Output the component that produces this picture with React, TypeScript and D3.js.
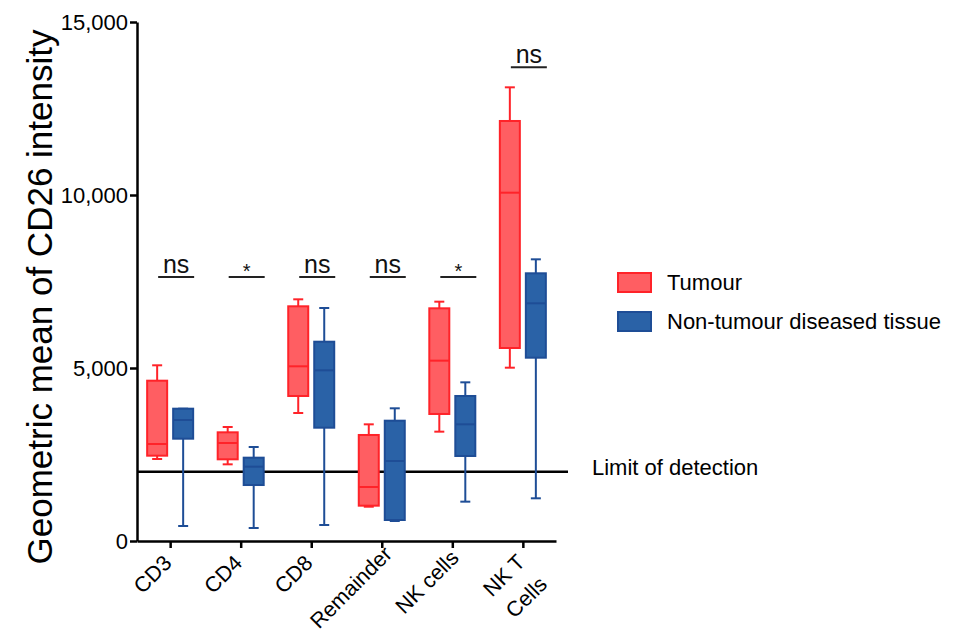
import React from "react";
import * as d3 from "d3";

// five-number summaries: [min, q1, median, q3, max]
const categories = ["CD3", "CD4", "CD8", "Remainder", "NK cells", "NK T\nCells"];
const tumour = [
  [2370, 2466, 2803, 4633, 5078],
  [2216, 2361, 2832, 3141, 3295],
  [3699, 4191, 5049, 6783, 6985],
  [991, 1021, 1561, 3064, 3372],
  [3160, 3671, 5212, 6725, 6917],
  [5009, 5578, 10067, 12139, 13112],
];
const nonTumour = [
  [434, 2957, 3497, 3824, 3824],
  [376, 1618, 2148, 2408, 2717],
  [462, 3275, 4933, 5760, 6734],
  [578, 607, 2312, 3477, 3835],
  [1137, 2457, 3372, 4191, 4586],
  [1234, 5298, 6870, 7737, 8141],
];
const significance = ["ns", "*", "ns", "ns", "*", "ns"];
const bracketLevels = [7630, 7630, 7630, 7630, 7630, 13690];
const yTicks = [0, 5000, 10000, 15000];
const limitOfDetection = 2000;
const seriesNames = ["Tumour", "Non-tumour diseased tissue"];

const FONT = "'Liberation Sans', Arial, Helvetica, sans-serif";
const colors = [
  { fill: "#FF5E62", stroke: "#FF2329" },
  { fill: "#2A62A7", stroke: "#1E4D96" },
];

export default function App() {
  const svgRef = React.useRef<SVGSVGElement>(null);

  React.useEffect(() => {
    const svg = d3.select(svgRef.current);
    svg.selectAll("*").remove();

    const y = d3.scaleLinear().domain([0, 15000]).range([541, 22]);
    const x = d3.scalePoint<string>().domain(categories).range([137, 556]).padding(0.47);

    // y axis
    const gy = svg
      .append("g")
      .attr("transform", "translate(137,0)")
      .call(
        d3
          .axisLeft(y)
          .tickValues(yTicks)
          .tickFormat(d3.format(","))
          .tickSize(7)
          .tickSizeOuter(0)
          .tickPadding(2)
      );
    gy.select(".domain").attr("stroke", "#000").attr("stroke-width", 2.5);
    gy.selectAll(".tick line").attr("stroke", "#000").attr("stroke-width", 2.5);
    gy.selectAll(".tick text")
      .attr("font-size", 22)
      .attr("font-family", FONT)
      .attr("fill", "#000");

    // x axis
    const gx = svg
      .append("g")
      .attr("transform", "translate(0,541)")
      .call(d3.axisBottom(x).tickSize(7).tickSizeOuter(0).tickFormat(() => ""));
    gx.select(".domain").attr("stroke", "#000").attr("stroke-width", 2.5);
    gx.selectAll(".tick line").attr("stroke", "#000").attr("stroke-width", 2.5);

    const labels = svg
      .append("g")
      .selectAll("text")
      .data(categories)
      .join("text")
      .attr("font-size", 21.5)
      .attr("font-family", FONT)
      .attr("fill", "#000")
      .attr("text-anchor", "end");
    labels.each(function (d) {
      const t = d3.select(this);
      d.split("\n").forEach((line, i) => {
        t.append("tspan")
          .attr("x", 0)
          .attr("dy", i === 0 ? 0 : "1.45em")
          .text(line);
      });
    });
    labels.attr("transform", function (d) {
      const first = (this as SVGTextElement).querySelector("tspan") as SVGTextContentElement;
      const len = first.getComputedTextLength();
      const shift = 0.2 * (len - 45);
      return `translate(${(x(d) as number) + 3},564) rotate(-45) translate(${shift},0)`;
    });

    // limit of detection
    svg
      .append("line")
      .attr("x1", 137)
      .attr("x2", 568)
      .attr("y1", y(limitOfDetection))
      .attr("y2", y(limitOfDetection))
      .attr("stroke", "#000")
      .attr("stroke-width", 2.5);
    svg
      .append("text")
      .attr("x", 592)
      .attr("y", y(limitOfDetection) + 3)
      .attr("font-size", 22)
      .attr("font-family", FONT)
      .text("Limit of detection");

    // boxes
    const boxW = 20;
    const capW = 10;
    [tumour, nonTumour].forEach((series, si) => {
      const col = colors[si];
      series.forEach((s, i) => {
        const cx = (x(categories[i]) as number) + (si === 0 ? -13 : 13);
        const [mn, q1, md, q3, mx] = s;
        const g = svg.append("g").attr("stroke", col.stroke).attr("stroke-width", 2);
        g.append("line").attr("x1", cx).attr("x2", cx).attr("y1", y(mx)).attr("y2", y(q3));
        g.append("line").attr("x1", cx).attr("x2", cx).attr("y1", y(q1)).attr("y2", y(mn));
        g.append("line").attr("x1", cx - capW / 2).attr("x2", cx + capW / 2).attr("y1", y(mx)).attr("y2", y(mx));
        g.append("line").attr("x1", cx - capW / 2).attr("x2", cx + capW / 2).attr("y1", y(mn)).attr("y2", y(mn));
        g.append("rect")
          .attr("x", cx - boxW / 2)
          .attr("y", y(q3))
          .attr("width", boxW)
          .attr("height", y(q1) - y(q3))
          .attr("fill", col.fill);
        g.append("line").attr("x1", cx - boxW / 2).attr("x2", cx + boxW / 2).attr("y1", y(md)).attr("y2", y(md));
      });
    });

    // significance brackets
    significance.forEach((sig, i) => {
      const cx = (x(categories[i]) as number) + 6;
      const by = y(bracketLevels[i]);
      svg
        .append("line")
        .attr("x1", cx - 18)
        .attr("x2", cx + 18)
        .attr("y1", by)
        .attr("y2", by)
        .attr("stroke", "#222")
        .attr("stroke-width", 2);
      svg
        .append("text")
        .attr("x", cx)
        .attr("y", sig === "*" ? by + 1 : by - 4)
        .attr("text-anchor", "middle")
        .attr("font-size", sig === "*" ? 20 : 25)
        .attr("font-family", FONT)
        .attr("fill", "#111")
        .text(sig);
    });

    // legend
    seriesNames.forEach((name, i) => {
      const ly = 273 + i * 39;
      svg
        .append("rect")
        .attr("x", 618)
        .attr("y", ly)
        .attr("width", 33)
        .attr("height", 19)
        .attr("fill", colors[i].fill)
        .attr("stroke", colors[i].stroke)
        .attr("stroke-width", 2);
      svg
        .append("text")
        .attr("x", 667)
        .attr("y", ly + 17)
        .attr("font-size", 22)
        .attr("font-family", FONT)
        .text(name);
    });

    // y title
    svg
      .append("text")
      .attr("transform", "translate(52,297) rotate(-90)")
      .attr("text-anchor", "middle")
      .attr("font-size", 35)
      .attr("font-family", FONT)
      .text("Geometric mean of CD26 intensity");

    return () => {
      svg.selectAll("*").remove();
    };
  }, []);

  return (
    <svg
      ref={svgRef}
      width={954}
      height={635}
      style={{ position: "absolute", left: 0, top: 0, background: "#fff" }}
    />
  );
}
